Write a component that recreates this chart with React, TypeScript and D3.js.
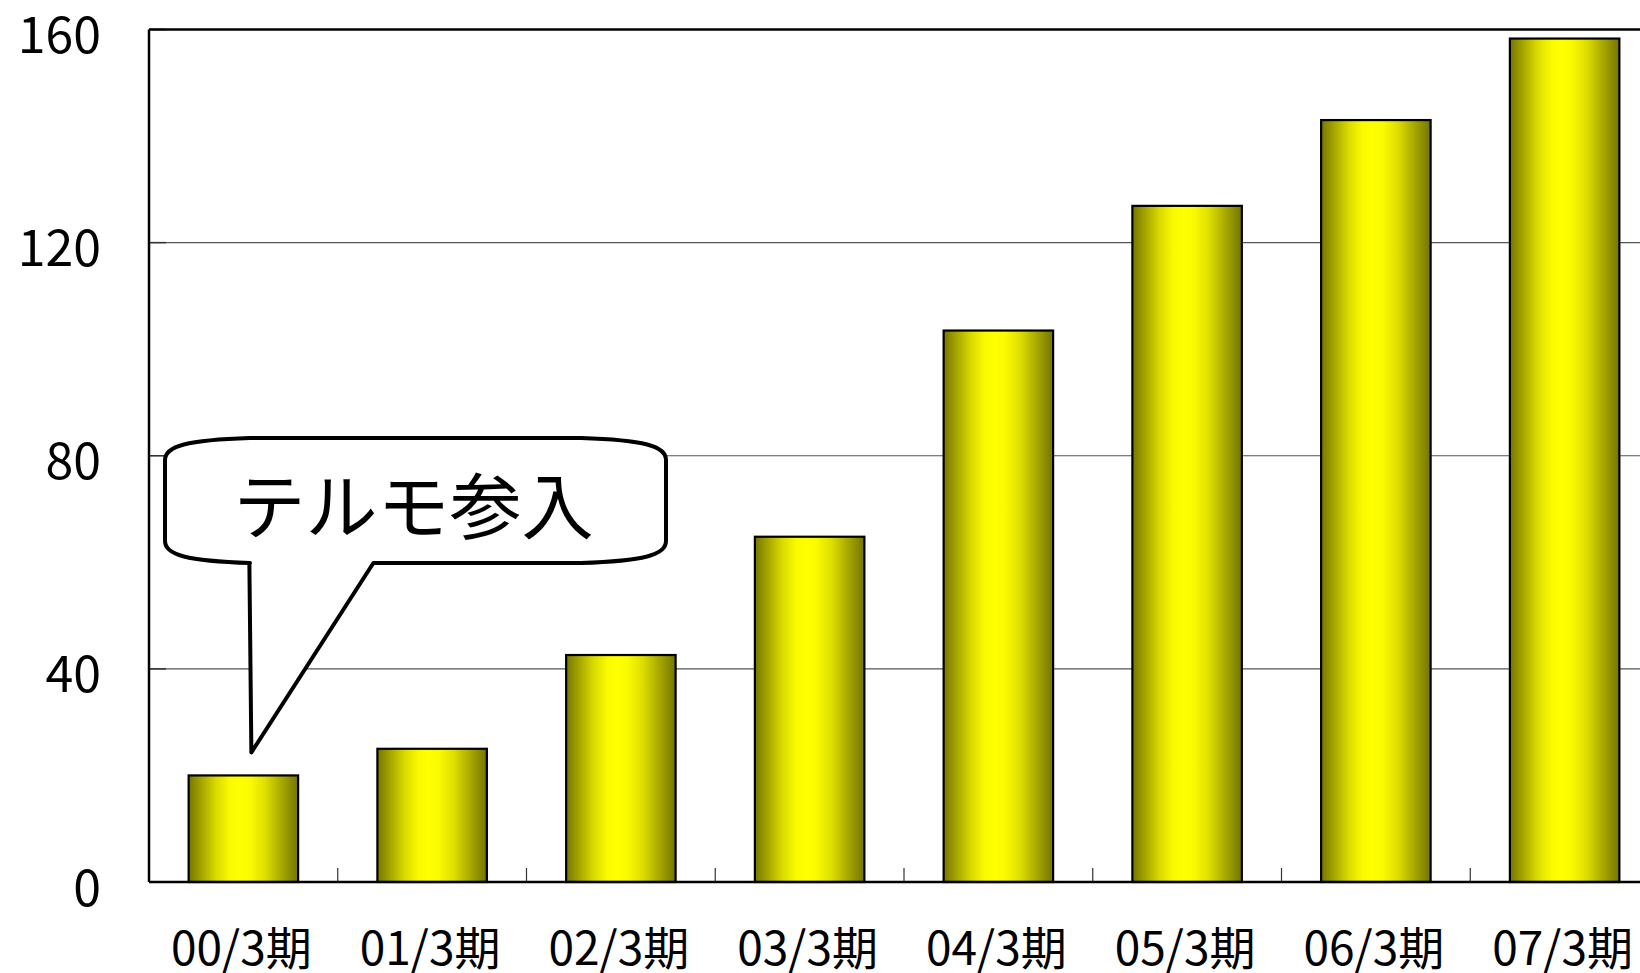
import React from "react";
import * as d3 from "d3";

const categories = ["00/3期", "01/3期", "02/3期", "03/3期", "04/3期", "05/3期", "06/3期", "07/3期"];
const values = [20, 25, 42.6, 64.8, 103.5, 126.9, 143, 158.3];
const yTicks = [0, 40, 80, 120, 160];
const calloutText = "テルモ参入";
const calloutIndex = 0;

const W = 1640;
const H = 973;
const plot = { left: 149, right: 1659, top: 29.5, bottom: 882 };

export default function App() {
  const x = d3.scaleBand<string>().domain(categories).range([plot.left, plot.right]).paddingInner(0.42).paddingOuter(0.21);
  const y = d3.scaleLinear().domain([0, 160]).range([plot.bottom, plot.top]);
  const step = x.step();
  const font = "'Noto Sans CJK JP', 'Noto Sans', sans-serif";

  const cx = (x(categories[calloutIndex]) as number) + x.bandwidth() / 2;
  const tipX = cx + 8;
  const tipY = y(values[calloutIndex]) - 23;
  const L = 165, R = 666, T = 438, B = 563;
  const tl = cx + 6, tr = cx + 130;
  const rx = 85, ry = 22;
  const calloutPath = [
    `M ${L} ${T + ry}`,
    `C ${L} ${T + 8} ${L + 22} ${T + 2} ${L + rx} ${T}`,
    `L ${R - rx} ${T}`,
    `C ${R - 22} ${T + 2} ${R} ${T + 8} ${R} ${T + ry}`,
    `L ${R} ${B - ry}`,
    `C ${R} ${B - 8} ${R - 22} ${B - 2} ${R - rx} ${B}`,
    `L ${tr} ${B}`,
    `L ${tipX} ${tipY}`,
    `L ${tl} ${B}`,
    `L ${L + rx} ${B}`,
    `C ${L + 22} ${B - 2} ${L} ${B - 8} ${L} ${B - ry}`,
    "Z",
  ].join(" ");

  return (
    <svg width={W} height={H} style={{ position: "absolute", left: 0, top: 0, display: "block", background: "#fff" }}>
      <defs>
        <linearGradient id="barGrad" x1="0" x2="1" y1="0" y2="0">
          <stop offset="0%" stopColor="#767600" />
          <stop offset="12%" stopColor="#a6a600" />
          <stop offset="25%" stopColor="#dada00" />
          <stop offset="38%" stopColor="#fbfb00" />
          <stop offset="47%" stopColor="#ffff00" />
          <stop offset="56%" stopColor="#fbfb00" />
          <stop offset="70%" stopColor="#dede00" />
          <stop offset="85%" stopColor="#a8a800" />
          <stop offset="100%" stopColor="#747400" />
        </linearGradient>
      </defs>
      {yTicks.filter((t) => t > 0 && t < 160).map((t) => (
        <line key={t} x1={plot.left} x2={plot.right} y1={y(t)} y2={y(t)} stroke="#555" strokeWidth={1.2} />
      ))}
      {yTicks.map((t) => (
        <line key={"yt" + t} x1={plot.left} x2={plot.left + 17} y1={y(t)} y2={y(t)} stroke="#333" strokeWidth={1.5} />
      ))}
      {categories.map((c, i) => (
        <line key={"xt" + i} x1={plot.left + step * i} x2={plot.left + step * i} y1={plot.bottom} y2={plot.bottom - 14} stroke="#333" strokeWidth={1.2} />
      ))}
      {categories.map((c, i) => (
        <rect key={c} x={x(c)} y={y(values[i])} width={x.bandwidth()} height={plot.bottom - y(values[i])} fill="url(#barGrad)" stroke="#000" strokeWidth={2.2} />
      ))}
      <line x1={plot.left} x2={plot.right} y1={plot.top} y2={plot.top} stroke="#000" strokeWidth={2.5} />
      <line x1={plot.left} x2={plot.left} y1={plot.top} y2={plot.bottom} stroke="#000" strokeWidth={2.5} />
      <line x1={plot.left} x2={plot.right} y1={plot.bottom} y2={plot.bottom} stroke="#000" strokeWidth={2.5} />
      {yTicks.map((t) => (
        <text key={"yl" + t} x={101} y={y(t) + 23.5} textAnchor="end" fontFamily={font} fontSize={50} fill="#000">
          {t}
        </text>
      ))}
      {categories.map((c) => (
        <text key={"xl" + c} x={(x(c) as number) + x.bandwidth() / 2 - 2} y={965} textAnchor="middle" fontFamily={font} fontSize={46} fill="#000">
          {c}
        </text>
      ))}
      <path d={calloutPath} fill="#fff" stroke="#000" strokeWidth={4} strokeLinejoin="round" />
      <text x={(L + R) / 2 - 2} y={533} textAnchor="middle" fontFamily={font} fontSize={72} fill="#000">
        {calloutText}
      </text>
    </svg>
  );
}
